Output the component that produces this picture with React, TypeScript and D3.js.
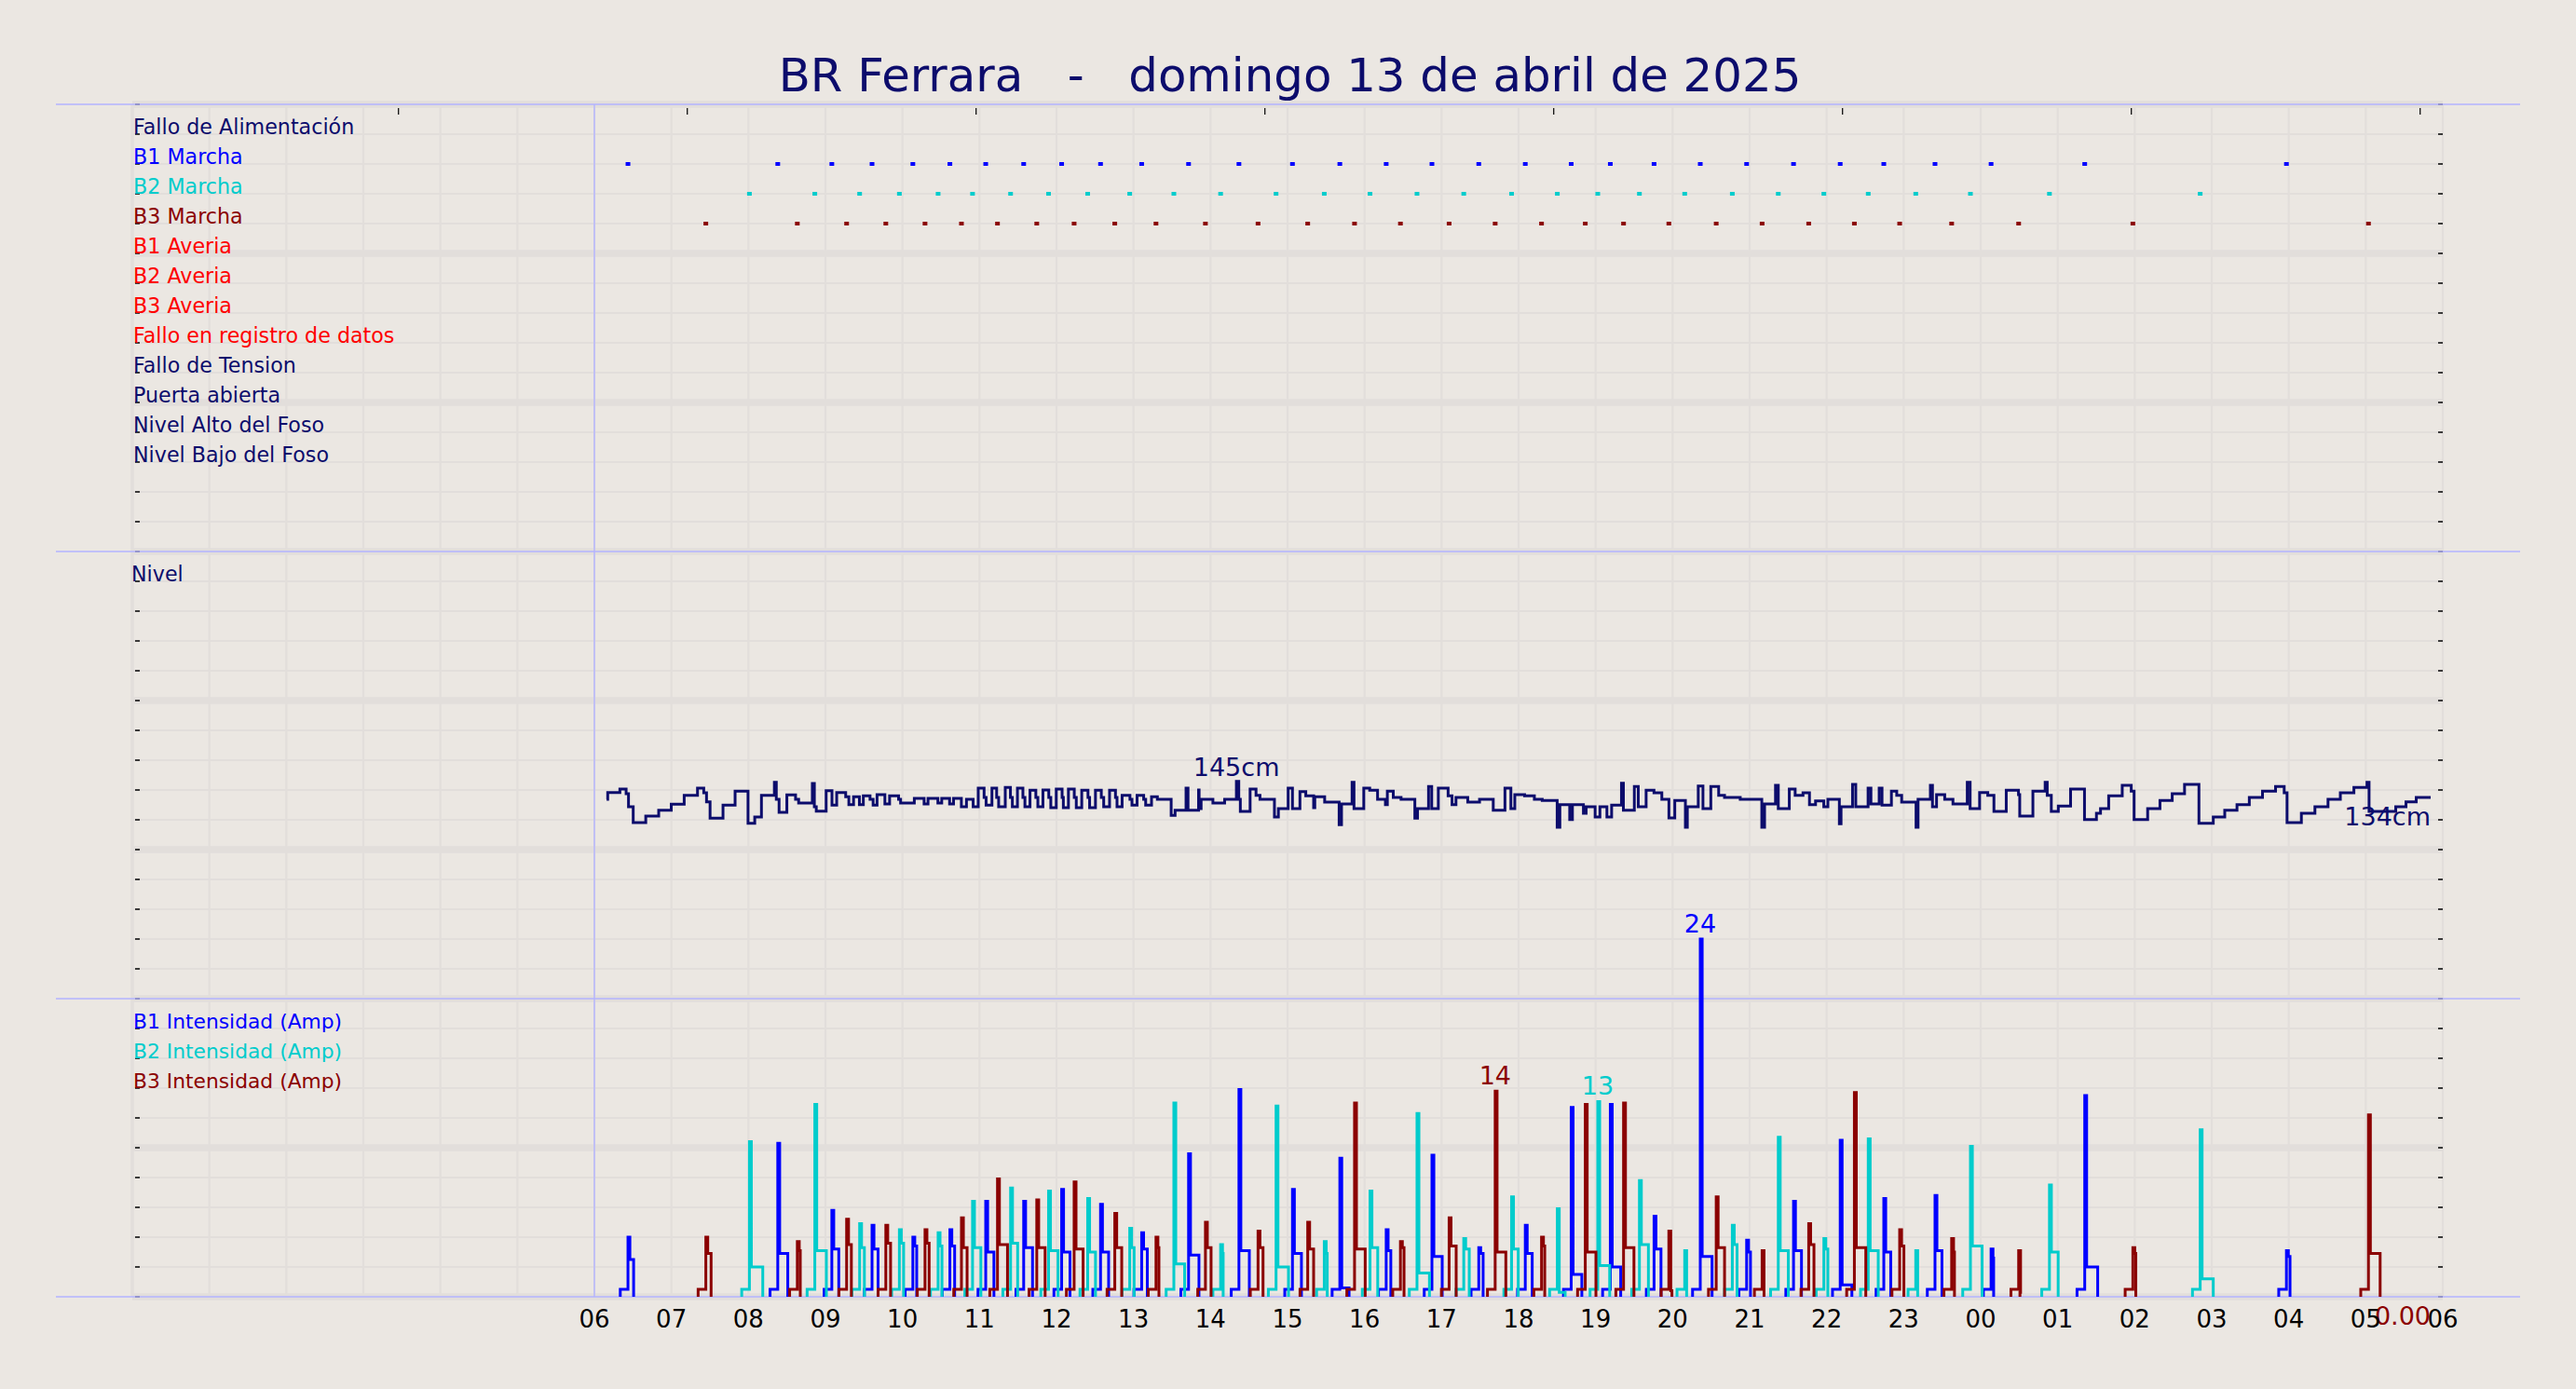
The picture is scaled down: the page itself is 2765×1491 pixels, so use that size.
import React from 'react';
import * as d3 from 'd3';

// ---------------- DATA ----------------
const titleText = 'BR Ferrara   -   domingo 13 de abril de 2025';

const statusLabels = [
  'Fallo de Alimentación', 'B1 Marcha', 'B2 Marcha', 'B3 Marcha',
  'B1 Averia', 'B2 Averia', 'B3 Averia', 'Fallo en registro de datos',
  'Fallo de Tension', 'Puerta abierta', 'Nivel Alto del Foso', 'Nivel Bajo del Foso',
];
const statusColors = [
  '#0c0c6c', '#0000ff', '#00cccc', '#8b0000',
  '#ff0000', '#ff0000', '#ff0000', '#ff0000',
  '#0c0c6c', '#0c0c6c', '#0c0c6c', '#0c0c6c',
];

const levelLabel = 'Nivel';
const ampLabels = ['B1 Intensidad (Amp)', 'B2 Intensidad (Amp)', 'B3 Intensidad (Amp)'];
const pumpColors = ['#0000ff', '#00cccc', '#8b0000'];

// hours since 00:00 of 13/04
const hourTickValues = [6, 7, 8, 9, 10, 11, 12, 13, 14, 15, 16, 17, 18, 19, 20, 21, 22, 23, 24, 25, 26, 27, 28, 29, 30];
const hourTickLabels = ['06', '07', '08', '09', '10', '11', '12', '13', '14', '15', '16', '17', '18', '19', '20', '21', '22', '23', '00', '01', '02', '03', '04', '05', '06'];
const topTickHours = [3.456, 7.206, 10.956, 14.706, 18.456, 22.206, 25.956, 29.706];
const lastReadingHour = 29.843;
const lastB3Amp = 0;

// Pump runs: start hour, peak amps, plateau amps, run length (minutes)
const b1Hours = [6.436, 8.381, 9.083, 9.605, 10.135, 10.616, 11.081, 11.574, 12.067, 12.572, 13.106, 13.715, 14.369, 15.064, 15.679, 16.281, 16.875, 17.483, 18.087, 18.683, 19.191, 19.759, 20.359, 20.961, 21.570, 22.176, 22.742, 23.407, 24.135, 25.351, 27.970];
const b1Peak = [4.0, 10.3, 5.8, 4.8, 4.0, 4.5, 6.4, 6.4, 7.2, 6.2, 4.3, 9.6, 13.9, 7.2, 9.3, 4.5, 9.5, 3.3, 4.8, 12.7, 12.9, 5.4, 24.0, 3.8, 6.4, 10.5, 6.6, 6.8, 3.2, 13.5, 3.1];
const b1Plateau = [2.5, 2.9, 3.2, 3.2, 3.4, 3.4, 3.0, 3.3, 3.0, 3.0, 3.2, 2.8, 3.1, 2.9, 0.6, 3.1, 2.7, 2.9, 2.9, 1.5, 2.0, 3.2, 2.7, 3.0, 3.1, 0.8, 3.0, 3.1, 2.6, 2.0, 2.7];
const b1Minutes = [4.4, 7.8, 5.4, 4.7, 3.0, 3.7, 6.4, 6.9, 6.5, 6.3, 4.4, 8.1, 8.1, 7.0, 7.2, 3.6, 8.0, 3.4, 5.4, 8.3, 8.1, 5.4, 9.2, 3.0, 6.2, 9.1, 5.4, 5.4, 2.0, 10.1, 2.8];

const b2Hours = [8.013, 8.862, 9.444, 9.960, 10.463, 10.910, 11.404, 11.897, 12.405, 12.951, 13.524, 14.131, 14.851, 15.477, 16.071, 16.681, 17.288, 17.909, 18.503, 19.028, 19.569, 20.157, 20.775, 21.372, 21.964, 22.540, 23.157, 23.867, 24.893, 26.850];
const b2Peak = [10.4, 12.9, 4.9, 4.5, 4.3, 6.4, 7.3, 7.1, 6.6, 4.6, 13.0, 3.5, 12.8, 3.7, 7.1, 12.3, 3.9, 6.7, 5.9, 13.1, 7.8, 3.1, 4.8, 10.7, 3.9, 10.6, 3.1, 10.1, 7.5, 11.2];
const b2Plateau = [2.0, 3.1, 3.3, 3.6, 3.4, 3.3, 3.6, 3.1, 3.0, 3.3, 2.2, 2.9, 2.0, 2.9, 3.3, 1.6, 3.2, 3.2, 0.3, 2.1, 3.5, 0.3, 3.5, 3.1, 3.2, 3.1, 0.3, 3.4, 3.0, 1.2];
const b2Minutes = [10.4, 9.0, 3.7, 3.3, 3.0, 6.5, 5.5, 7.4, 6.1, 3.4, 8.4, 2.0, 9.7, 2.3, 6.0, 9.7, 4.3, 5.2, 6.1, 9.3, 7.0, 1.5, 3.7, 7.8, 3.1, 7.8, 1.5, 9.1, 6.8, 10.2];

const b3Hours = [7.447, 8.635, 9.275, 9.784, 10.293, 10.766, 11.234, 11.744, 12.229, 12.757, 13.292, 13.934, 14.617, 15.262, 15.870, 16.466, 17.098, 17.696, 18.298, 18.866, 19.363, 19.951, 20.566, 21.162, 21.767, 22.360, 22.948, 23.623, 24.493, 25.976, 29.035];
const b3Peak = [4.0, 3.7, 5.2, 4.8, 4.5, 5.3, 7.9, 6.5, 7.7, 5.6, 4.0, 5.0, 4.4, 5.0, 13.0, 3.7, 5.3, 13.8, 4.0, 12.9, 13.0, 4.4, 6.7, 3.1, 4.9, 13.7, 4.5, 3.9, 3.1, 3.3, 12.2];
const b3Plateau = [2.9, 3.1, 3.5, 3.6, 3.6, 3.3, 3.5, 3.3, 3.2, 3.3, 3.3, 3.3, 3.3, 3.2, 3.2, 3.3, 3.4, 3.0, 3.4, 3.0, 3.3, 0.4, 3.3, 0.3, 3.5, 3.3, 3.4, 3.0, 0.3, 2.9, 2.9];
const b3Minutes = [4.1, 2.3, 3.7, 3.7, 3.2, 4.4, 7.8, 6.5, 7.0, 5.4, 2.3, 4.4, 3.9, 4.6, 8.3, 2.8, 5.5, 8.3, 2.5, 8.3, 8.1, 2.4, 6.5, 1.5, 4.1, 8.9, 3.3, 2.2, 1.0, 2.3, 9.1];

const preAmp = 0.5;      // standby current before start
const preMinutes = 6;    // minutes of standby before start
const peakMinutes = 1.5; // duration of start-up peak

// Pit level (cm), step series
const levelHours = [
  6.158, 6.173, 6.331, 6.412, 6.443, 6.504, 6.667, 6.835, 6.998, 7.166, 7.339, 7.420, 7.456, 7.502, 7.670, 7.827, 7.995, 8.082, 8.169, 8.337,
  8.362, 8.398, 8.499, 8.612, 8.652, 8.830, 8.856, 8.881, 9.009, 9.085, 9.146, 9.263, 9.304, 9.365, 9.441, 9.492, 9.579, 9.619, 9.670, 9.772,
  9.833, 9.950, 9.976, 10.154, 10.281, 10.332, 10.460, 10.510, 10.612, 10.663, 10.765, 10.831, 10.918, 10.984, 11.060, 11.086, 11.162, 11.223, 11.249, 11.335,
  11.402, 11.427, 11.493, 11.564, 11.590, 11.656, 11.732, 11.758, 11.824, 11.900, 11.926, 11.997, 12.073, 12.089, 12.155, 12.231, 12.257, 12.328, 12.409, 12.430,
  12.506, 12.582, 12.613, 12.689, 12.766, 12.786, 12.852, 12.954, 12.980, 13.046, 13.132, 13.158, 13.234, 13.310, 13.489, 13.540, 13.682, 13.708, 13.845, 13.852,
  13.878, 14.031, 14.183, 14.336, 14.367, 14.387, 14.514, 14.591, 14.642, 14.830, 14.881, 15.008, 15.064, 15.161, 15.237, 15.339, 15.354, 15.482, 15.670, 15.701,
  15.838, 15.863, 15.990, 16.067, 16.169, 16.271, 16.296, 16.373, 16.474, 16.653, 16.688, 16.831, 16.872, 16.958, 17.085, 17.136, 17.187, 17.340, 17.493, 17.671,
  17.823, 17.900, 17.951, 18.078, 18.205, 18.307, 18.501, 18.536, 18.664, 18.699, 18.842, 18.877, 18.994, 19.056, 19.147, 19.208, 19.336, 19.361, 19.503, 19.554,
  19.656, 19.758, 19.860, 19.952, 20.028, 20.166, 20.191, 20.333, 20.394, 20.496, 20.598, 20.674, 20.878, 21.158, 21.194, 21.336, 21.372, 21.515, 21.591, 21.693,
  21.777, 21.856, 21.963, 22.016, 22.165, 22.187, 22.336, 22.378, 22.538, 22.575, 22.682, 22.719, 22.841, 22.910, 22.974, 23.161, 23.187, 23.347, 23.374, 23.427,
  23.533, 23.640, 23.826, 23.863, 23.986, 24.092, 24.172, 24.332, 24.491, 24.507, 24.678, 24.837, 24.864, 24.917, 25.008, 25.167, 25.348, 25.503, 25.556, 25.662,
  25.838, 25.955, 25.992, 26.168, 26.328, 26.487, 26.647, 26.834, 27.020, 27.169, 27.328, 27.488, 27.659, 27.829, 27.941, 27.978, 28.164, 28.340, 28.510, 28.670,
  28.846, 29.016, 29.043, 29.389, 29.522, 29.655, 29.843,
];
const levelCm = [
  140.8, 142.4, 143.2, 142.1, 139.0, 135.3, 136.8, 138.2, 139.6, 141.7, 143.4, 142.3, 140.2, 136.3, 139.4, 142.7, 135.1, 136.6, 141.7, 144.8,
  140.8, 137.7, 141.8, 140.8, 139.9, 144.5, 139.0, 138.0, 142.8, 139.4, 142.4, 141.4, 139.5, 141.4, 139.5, 141.6, 140.8, 139.4, 141.9, 139.7,
  141.6, 140.8, 139.9, 141.0, 139.7, 141.0, 139.9, 141.0, 139.7, 141.0, 139.0, 140.8, 139.0, 143.4, 141.2, 139.4, 143.4, 141.2, 139.0, 143.6,
  141.2, 139.0, 143.4, 141.2, 139.0, 142.9, 141.2, 139.0, 143.0, 141.2, 138.8, 143.2, 141.2, 138.8, 143.2, 141.2, 138.8, 142.9, 141.2, 138.8,
  142.9, 141.2, 139.0, 142.9, 141.2, 139.0, 141.7, 140.8, 139.4, 141.7, 140.8, 139.4, 141.4, 140.8, 137.0, 138.2, 143.4, 138.2, 143.0, 138.6,
  140.8, 139.9, 140.8, 145.0, 140.8, 137.9, 143.2, 141.7, 140.8, 136.6, 138.6, 143.4, 138.6, 142.6, 141.6, 138.8, 141.4, 140.1, 134.8, 139.7,
  144.8, 138.6, 143.4, 142.9, 140.8, 139.5, 142.7, 141.2, 140.8, 136.3, 138.6, 143.8, 138.6, 143.4, 141.6, 139.5, 141.2, 140.1, 140.8, 138.2,
  143.4, 138.6, 141.9, 141.6, 140.8, 140.5, 134.2, 139.5, 136.0, 139.5, 137.5, 139.0, 136.6, 139.0, 136.6, 139.4, 144.6, 138.2, 143.8, 139.0,
  142.9, 142.3, 140.8, 136.4, 140.5, 134.2, 139.0, 143.9, 138.6, 143.8, 141.7, 141.2, 140.8, 134.2, 139.7, 144.1, 138.6, 143.2, 141.7, 142.3,
  139.5, 140.4, 139.0, 140.8, 135.0, 139.0, 144.3, 139.0, 143.4, 139.7, 143.4, 139.4, 142.7, 141.7, 140.1, 134.2, 140.8, 144.1, 139.0, 141.9,
  140.8, 139.7, 144.8, 138.6, 142.4, 141.7, 137.9, 142.9, 141.9, 136.8, 142.7, 144.8, 141.7, 137.9, 139.2, 143.2, 136.0, 137.5, 138.6, 141.6,
  144.1, 142.7, 136.0, 138.6, 140.5, 142.1, 144.3, 135.1, 136.6, 138.2, 139.5, 141.2, 142.7, 143.8, 142.3, 135.3, 137.5, 139.0, 140.8, 142.3,
  143.6, 144.8, 137.9, 139.0, 140.2, 141.2, 141.2,
];

// ---------------- STYLE / LAYOUT ----------------
const W = 2765;
const H = 1491;
const BG = '#ebe7e2';
const GRID = '#e2dedb';
const PANEL = '#b3b3ff';
const NAVY = '#0c0c6c';
const FONT = 'DejaVu Sans, Verdana, sans-serif';

const x = d3.scaleLinear().domain([0, 30]).range([142, 2622]);
const rowY = d3.scaleLinear().domain([0, 40]).range([112, 1392]);
const levelY = d3.scaleLinear().domain([93.7, 199.3]).range([1072, 592]);
const ampY = d3.scaleLinear().domain([0, 20]).range([1392, 1072]);

const pumps = [
  { hours: b1Hours, peak: b1Peak, plateau: b1Plateau, minutes: b1Minutes, color: pumpColors[0], row: 2 },
  { hours: b2Hours, peak: b2Peak, plateau: b2Plateau, minutes: b2Minutes, color: pumpColors[1], row: 3 },
  { hours: b3Hours, peak: b3Peak, plateau: b3Plateau, minutes: b3Minutes, color: pumpColors[2], row: 4 },
];

const stepLine = d3.line<[number, number]>().curve(d3.curveStepAfter);

function runsPath(p: typeof pumps[number]): string {
  return p.hours.map((h, i) => {
    const pts: [number, number][] = [
      [x(h - preMinutes / 60), ampY(0)],
      [x(h - preMinutes / 60), ampY(preAmp)],
      [x(h), ampY(p.peak[i])],
      [x(h + peakMinutes / 60), ampY(p.plateau[i])],
      [x(h + p.minutes[i] / 60), ampY(0)],
    ];
    return stepLine(pts) || '';
  }).join(' ');
}

export default function App() {
  const rows = d3.range(0, 41);
  const hours = d3.range(0, 31);
  const levelPts: [number, number][] = levelHours.map((h, i) => [x(h), levelY(levelCm[i])]);
  const levelPath = stepLine(levelPts) || '';
  const iMax = d3.maxIndex(levelCm);
  const vMin = d3.min(levelCm) as number;

  return (
    <svg width={W} height={H} style={{ position: 'absolute', left: 0, top: 0, background: BG }} fontFamily={FONT}>
      <rect x={0} y={0} width={W} height={H} fill={BG} />
      {/* vertical hour grid */}
      {hours.map((h) => (
        <line key={'v' + h} x1={x(h)} x2={x(h)} y1={rowY(0)} y2={rowY(40)} stroke={GRID} strokeWidth={h === 0 ? 3.5 : 2.2} />
      ))}
      {/* horizontal grid */}
      {rows.map((r) => (
        <line key={'h' + r} x1={x(0)} x2={x(30)} y1={rowY(r)} y2={rowY(r)} stroke={GRID} strokeWidth={r % 5 === 0 ? 7.5 : 2.2} />
      ))}
      {/* y ticks both sides */}
      {rows.map((r) => (
        <g key={'t' + r}>
          <line x1={x(0) + 3} x2={x(0) + 8} y1={rowY(r)} y2={rowY(r)} stroke="#111" strokeWidth={1.6} />
          <line x1={x(30) - 5} x2={x(30)} y1={rowY(r)} y2={rowY(r)} stroke="#111" strokeWidth={1.6} />
        </g>
      ))}
      {/* panel separators */}
      {[0, 15, 30, 40].map((r) => (
        <line key={'p' + r} x1={60} x2={2705} y1={rowY(r)} y2={rowY(r)} stroke={PANEL} strokeWidth={1.6} />
      ))}
      <line x1={x(6)} x2={x(6)} y1={rowY(0)} y2={rowY(40)} stroke={PANEL} strokeWidth={1.4} />
      {/* top ticks */}
      {topTickHours.map((h) => (
        <line key={'tt' + h} x1={x(h)} x2={x(h)} y1={rowY(0) + 4} y2={rowY(0) + 11} stroke="#111" strokeWidth={1.3} />
      ))}
      {/* title */}
      <text x={W / 2 + 2} y={98} textAnchor="middle" fontSize={49.8} fill={NAVY} style={{ whiteSpace: 'pre' }}>{titleText}</text>

      {/* status labels */}
      {statusLabels.map((s, i) => (
        <text key={s} x={x(0) + 1} y={rowY(i + 1)} fontSize={22.2} fill={statusColors[i]}>{s}</text>
      ))}
      {/* status markers */}
      {pumps.map((p, k) => (
        <g key={'m' + k} fill={p.color}>
          {p.hours.map((h, i) => (
            <rect key={i} x={x(h) - 2.5} y={rowY(p.row) - 2} width={5} height={4} />
          ))}
        </g>
      ))}

      {/* level panel */}
      <text x={x(0) - 1} y={rowY(16)} fontSize={22.2} fill={NAVY}>{levelLabel}</text>
      <path d={levelPath} fill="none" stroke={NAVY} strokeWidth={3} />
      <text x={x(levelHours[iMax])} y={levelY(levelCm[iMax]) - 6} textAnchor="middle" fontSize={27} fill={NAVY}>
        {Math.round(levelCm[iMax]) + 'cm'}
      </text>
      <text x={x(lastReadingHour)} y={levelY(vMin) - 2} textAnchor="end" fontSize={27} fill={NAVY}>
        {Math.round(vMin) + 'cm'}
      </text>

      {/* current panel */}
      {ampLabels.map((s, i) => (
        <text key={s} x={x(0) + 1} y={rowY(31 + i)} fontSize={21.8} fill={pumpColors[i]}>{s}</text>
      ))}
      {pumps.map((p, k) => (
        <path key={'r' + k} d={runsPath(p)} fill="none" stroke={p.color} strokeWidth={3} />
      ))}
      {pumps.map((p, k) => {
        const i = d3.maxIndex(p.peak);
        return (
          <text key={'pk' + k} x={x(p.hours[i])} y={ampY(p.peak[i]) - 7} textAnchor="middle" fontSize={27} fill={p.color}>
            {Math.round(p.peak[i])}
          </text>
        );
      })}
      <text x={x(lastReadingHour)} y={ampY(0) + 30} textAnchor="end" fontSize={27} fill={pumpColors[2]}>
        {lastB3Amp.toFixed(2)}
      </text>

      {/* x tick labels */}
      {hourTickValues.map((h, i) => (
        <text key={'xl' + i} x={x(h)} y={rowY(40) + 33} textAnchor="middle" fontSize={26} fill="#000">{hourTickLabels[i]}</text>
      ))}
    </svg>
  );
}
